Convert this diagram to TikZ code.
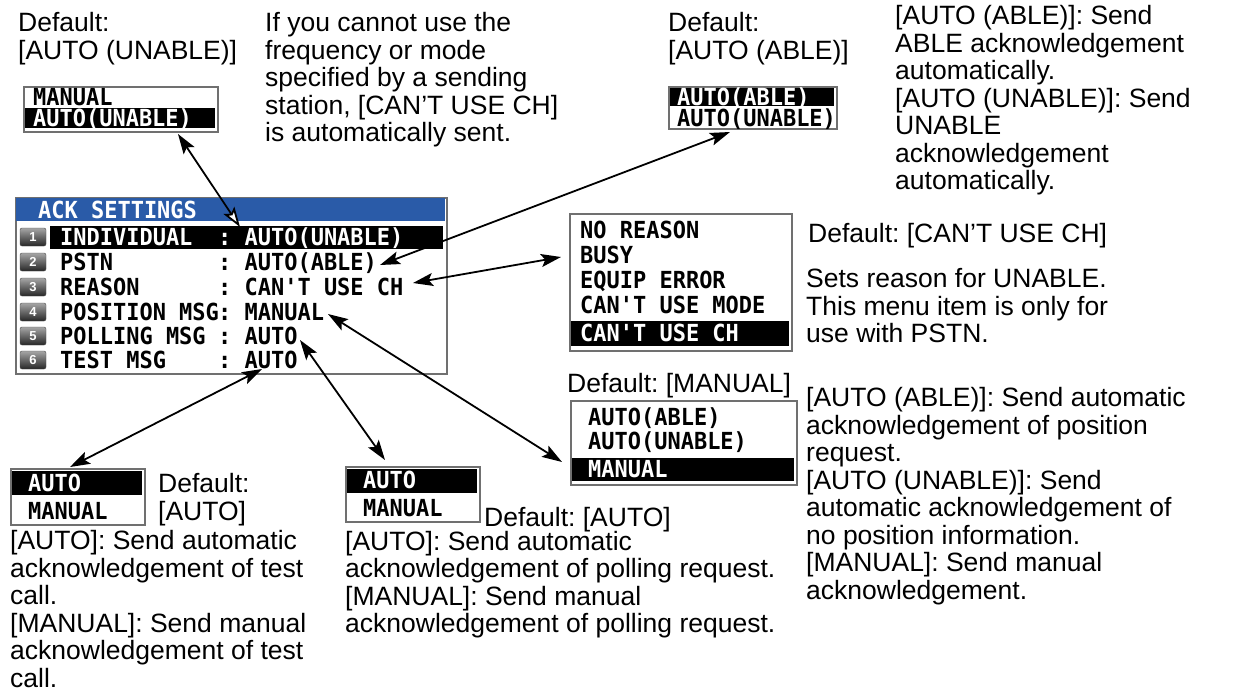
\documentclass[tikz,border=0pt]{standalone}
\usepackage{fontspec}
\setmainfont{Liberation Sans}
\newfontfamily\lcd{DejaVu Sans Mono}[FakeStretch=0.935]
\usetikzlibrary{arrows.meta}
\definecolor{titleblue}{HTML}{2A5BA8}
\definecolor{boxgray}{HTML}{707070}
\frenchspacing
\begin{document}
\begin{tikzpicture}[x=1pt,y=-1pt,
  desc/.style={anchor=north west,inner sep=0,align=left,font=\fontsize{26.5}{27.5}\selectfont},
  lcdtext/.style={anchor=base west,inner sep=0,font=\fontsize{23.5}{25}\selectfont\lcd\bfseries},
  lcdw/.style={lcdtext,text=white},
  panel/.style={draw=boxgray,line width=1.5pt,fill=white,anchor=north west,inner sep=0},
  hl/.style={fill=black},
  icon/.style={rounded corners=2pt,top color=black!35,bottom color=black!85,draw=black!70,line width=0.4pt,
    minimum width=26pt,minimum height=18pt,inner sep=0,text=white,font=\fontsize{13}{13}\selectfont\bfseries},
  dbl/.style={line width=1.8pt,{Stealth[length=20pt,width=13pt,inset=4pt]}-{Stealth[length=20pt,width=13pt,inset=4pt]}},
  dblw/.style={line width=1.8pt,{Stealth[length=20pt,width=13pt,inset=4pt]}-{Stealth[length=20pt,width=13pt,inset=4pt,fill=white]}}
]
\useasboundingbox (0,0) rectangle (1235,697);

% ---------- main menu ----------
\node[panel,minimum width=431pt,minimum height=176pt] (menu) at (15,197) {};
\fill[titleblue] (16,198) rectangle (445,221);
\node[lcdw] (title) at (38,218) {ACK SETTINGS};
\fill[hl] (50,226) rectangle (443,249);
\node[icon] (i1) at (33,237) {1};
\node[icon] (i2) at (33,262) {2};
\node[icon] (i3) at (33,287) {3};
\node[icon] (i4) at (33,312) {4};
\node[icon] (i5) at (33,336) {5};
\node[icon] (i6) at (33,360) {6};
\node[lcdw] (l1) at (60,245.5) {INDIVIDUAL};
\node[lcdw] (v1) at (218,245.5) {: AUTO(UNABLE)};
\node[lcdtext] (l2) at (60,270.5) {PSTN};
\node[lcdtext] (v2) at (218,270.5) {: AUTO(ABLE)};
\node[lcdtext] (l3) at (60,295.5) {REASON};
\node[lcdtext] (v3) at (218,295.5) {: CAN'T USE CH};
\node[lcdtext] (l4) at (60,320.5) {POSITION MSG};
\node[lcdtext] (v4) at (218,320.5) {: MANUAL};
\node[lcdtext] (l5) at (60,344.5) {POLLING MSG};
\node[lcdtext] (v5) at (218,344.5) {: AUTO};
\node[lcdtext] (l6) at (60,368.5) {TEST MSG};
\node[lcdtext] (v6) at (218,368.5) {: AUTO};

% ---------- individual box ----------
\node[desc] (t1) at (18,12.25) {\strut Default:\\{[AUTO (UNABLE)]}};
\node[panel,minimum width=194pt,minimum height=45pt] (box1) at (23,86) {};
\node[lcdtext] (b1a) at (33,105) {MANUAL};
\fill[hl] (25,108) rectangle (215,128);
\node[lcdw] (b1b) at (33,126.5) {AUTO(UNABLE)};

\node[desc] (t2) at (265,12.25) {\strut If you cannot use the\\frequency or mode\\specified by a sending\\station, [CAN'T USE CH]\\is automatically sent.};

% ---------- PSTN box ----------
\node[desc] (t3) at (668,12.25) {\strut Default:\\{[AUTO (ABLE)]}};
\node[panel,minimum width=168pt,minimum height=42pt] (box2) at (668,86) {};
\fill[hl] (670,88) rectangle (834,106);
\node[lcdw] (b2a) at (677,105) {AUTO(ABLE)};
\node[lcdtext] (b2b) at (677,126.5) {AUTO(UNABLE)};
\node[desc] (t4) at (895,5.25) {\strut [AUTO (ABLE)]: Send\\ABLE acknowledgement\\automatically.\\{[AUTO (UNABLE)]}: Send\\UNABLE\\acknowledgement\\automatically.};

% ---------- reason box ----------
\node[panel,minimum width=222pt,minimum height=137pt] (box3) at (569,213) {};
\node[lcdtext] (r1) at (580,238.5) {NO REASON};
\node[lcdtext] (r2) at (580,263.5) {BUSY};
\node[lcdtext] (r3) at (580,288.5) {EQUIP ERROR};
\node[lcdtext] (r4) at (580,313.5) {CAN'T USE MODE};
\fill[hl] (571,321) rectangle (789,346);
\node[lcdw] (r5) at (580,341.5) {CAN'T USE CH};
\node[desc] (t5) at (808,223.25) {\strut Default: [CAN’T USE CH]};
\node[desc] (t6) at (806,268.25) {\strut Sets reason for UNABLE.\\This menu item is only for\\use with PSTN.};

% ---------- position box ----------
\node[desc] (t7) at (567,373.25) {\strut Default: [MANUAL]};
\node[panel,minimum width=226pt,minimum height=84pt] (box4) at (570,400) {};
\node[lcdtext] (p1) at (588,425.5) {AUTO(ABLE)};
\node[lcdtext] (p2) at (588,449.5) {AUTO(UNABLE)};
\fill[hl] (572,458) rectangle (794,481);
\node[lcdw] (p3) at (588,477.5) {MANUAL};
\node[desc] (t8) at (806,387.25) {\strut [AUTO (ABLE)]: Send automatic\\acknowledgement of position\\request.\\{[AUTO (UNABLE)]}: Send\\automatic acknowledgement of\\no position information.\\{[MANUAL]}: Send manual\\acknowledgement.};

% ---------- test box ----------
\node[panel,minimum width=134pt,minimum height=56pt] (box5) at (10,468) {};
\fill[hl] (12,471) rectangle (142,495);
\node[lcdw] (s1) at (28,491.5) {AUTO};
\node[lcdtext] (s2) at (28,519.5) {MANUAL};
\node[desc] (t9) at (158,473.25) {\strut Default:\\{[AUTO]}};
\node[desc] (t10) at (10,530.25) {\strut [AUTO]: Send automatic\\acknowledgement of test\\call.\\{[MANUAL]}: Send manual\\acknowledgement of test\\call.};

% ---------- polling box ----------
\node[panel,minimum width=134pt,minimum height=55pt] (box6) at (345,466) {};
\fill[hl] (347,469) rectangle (477,493);
\node[lcdw] (q1) at (363,488.5) {AUTO};
\node[lcdtext] (q2) at (363,516.5) {MANUAL};
\node[desc] (t11) at (484,507.25) {\strut Default: [AUTO]};
\node[desc] (t12) at (345,531) {\strut [AUTO]: Send automatic\\acknowledgement of polling request.\\{[MANUAL]}: Send manual\\acknowledgement of polling request.};

% ---------- arrows ----------
\coordinate (a1s) at (178,134); \coordinate (a1e) at (240,227);
\coordinate (a2s) at (380,265); \coordinate (a2e) at (730,132);
\coordinate (a3s) at (413,283); \coordinate (a3e) at (561,257);
\coordinate (a4s) at (328,314); \coordinate (a4e) at (562,462);
\coordinate (a5s) at (300,340); \coordinate (a5e) at (385,460);
\coordinate (a6s) at (262,369); \coordinate (a6e) at (70,467);
\draw[dblw] (a1s) -- (a1e);
\draw[dbl] (a2s) -- (a2e);
\draw[dbl] (a3s) -- (a3e);
\draw[dbl] (a4s) -- (a4e);
\draw[dbl] (a5s) -- (a5e);
\draw[dbl] (a6s) -- (a6e);
\end{tikzpicture}
\end{document}
